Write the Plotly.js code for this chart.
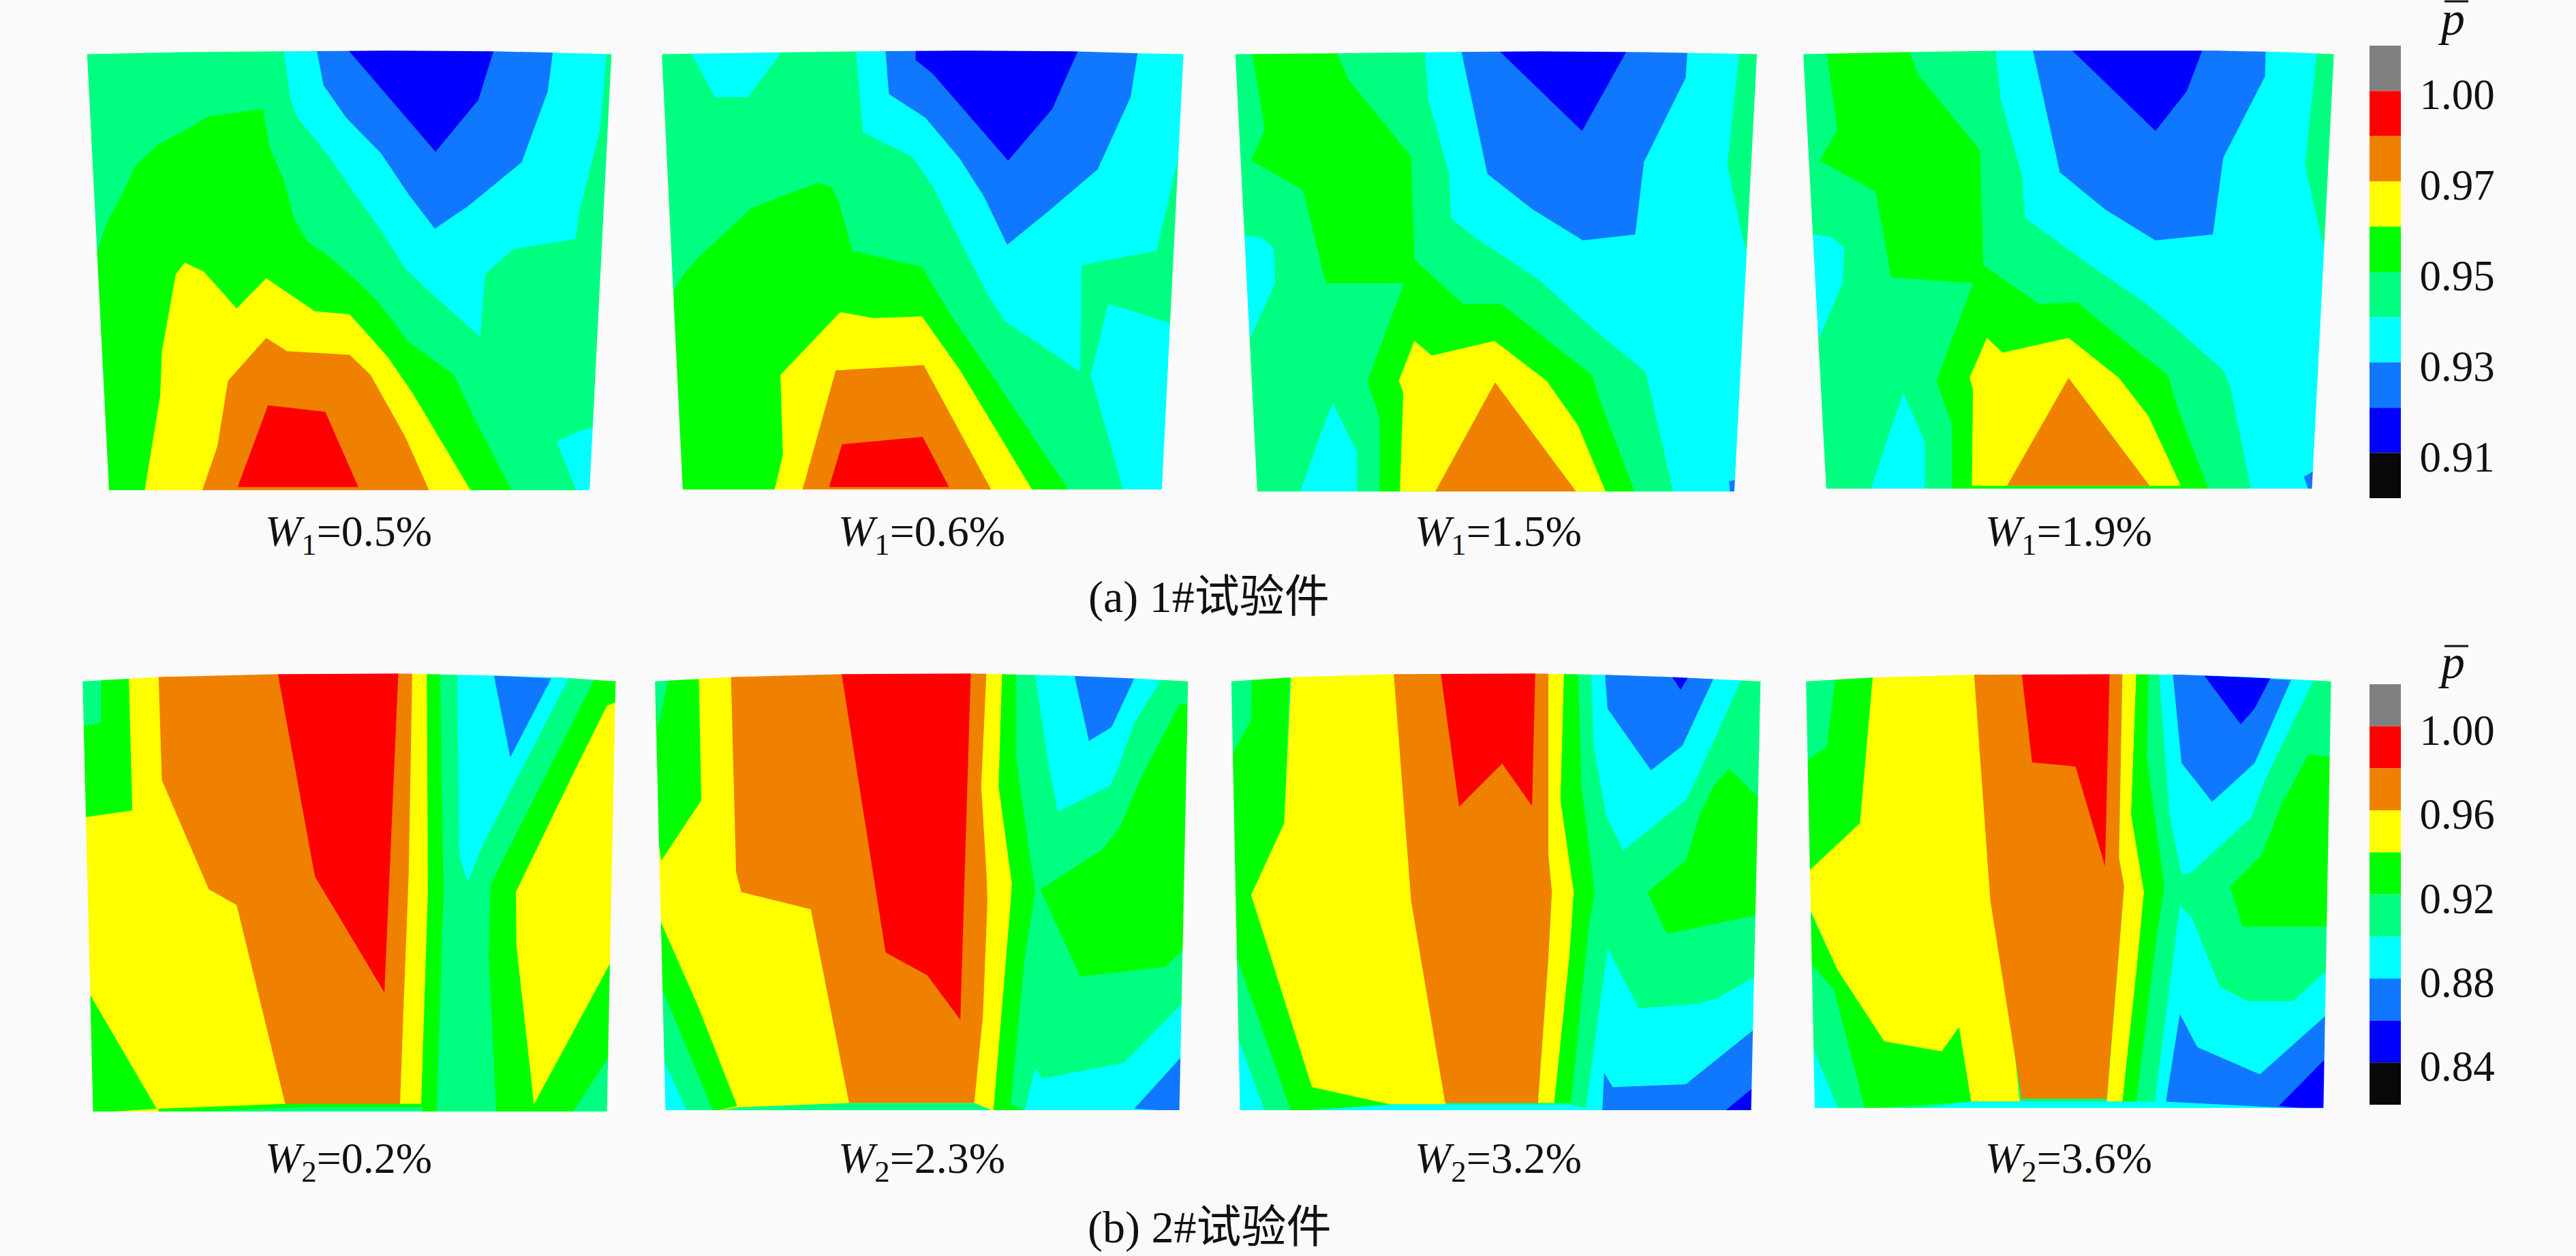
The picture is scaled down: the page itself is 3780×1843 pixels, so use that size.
<!DOCTYPE html>
<html><head><meta charset="utf-8">
<script src="https://cdn.plot.ly/plotly-3.0.1.min.js"></script>
<style>html,body{margin:0;padding:0;background:#fafafa}</style>
</head><body><div id="chart" style="width:3780px;height:1843px"></div>
<script>
// ---------- DATA: iso-band regions, panel plane units ----------
const levels1 = ['1.00','0.97','0.95','0.93','0.91'];
const levels2 = ['1.00','0.96','0.92','0.88','0.84'];
const bandKeys = ['gray','R','O','Y','G','S','C','B','N','K'];
const labels1 = ['0.5%','0.6%','1.5%','1.9%'];
const labels2 = ['0.2%','2.3%','3.2%','3.6%'];

const outline1 = [[35,45],[300,38],[600,35],[900,33],[1200,35],[1380,40],[1543,45],[1480,1520],[98,1520]];
const bands1 = [
 ['S',[[0,0],[1568,0],[1568,1568],[0,1568]]],
 ['C',[[600,30],[1530,30],[1510,300],[1450,580],[1440,670],[1260,705],[1180,790],[1165,1000],[1030,860],[950,770],[880,640],[800,510],[730,390],[640,260],[620,200]]],
 ['C',[[1385,1355],[1450,1320],[1500,1305],[1500,1530],[1445,1530]]],
 ['B',[[695,30],[1375,30],[1360,170],[1285,410],[1130,560],[1035,635],[960,520],[880,380],[780,260],[715,150]]],
 ['N',[[785,30],[1205,30],[1160,200],[1037,375]]],
 ['G',[[40,710],[65,710],[90,620],[130,530],[175,420],[240,350],[320,300],[385,255],[540,230],[560,360],[600,470],[630,600],[670,680],[720,720],[800,800],[870,880],[960,1020],[1090,1130],[1150,1280],[1260,1530],[40,1530]]],
 ['Y',[[200,1525],[245,1200],[250,1050],[290,790],[315,750],[370,780],[465,905],[550,803],[690,915],[790,925],[900,1070],[970,1190],[1140,1525]]],
 ['O',[[365,1525],[410,1370],[440,1150],[550,1005],[610,1050],[790,1062],[850,1130],[950,1340],[1020,1525]]],
 ['R',[[468,1510],[555,1233],[720,1255],[815,1510]]]
];

const outline2 = [[22,45],[300,40],[600,35],[900,33],[1200,35],[1400,42],[1522,45],[1460,1518],[82,1518]];
const bands2 = [
 ['S',[[0,0],[1568,0],[1568,1568],[0,1568]]],
 ['C',[[105,40],[365,40],[270,190],[175,190]]],
 ['C',[[580,30],[1530,30],[1510,380],[1445,710],[1290,745],[1230,760],[1225,1120],[1100,1020],[1010,950],[960,860],[890,700],[800,490],[740,390],[600,310]]],
 ['C',[[1305,890],[1350,905],[1485,955],[1470,1525],[1350,1525],[1255,1130]]],
 ['B',[[665,30],[1392,30],[1370,190],[1275,435],[1130,580],[1015,690],[950,530],[880,400],[780,260],[675,180]]],
 ['N',[[752,30],[1220,30],[1145,230],[1018,405],[800,110],[752,65]]],
 ['G',[[50,860],[85,790],[120,740],[280,565],[470,480],[510,495],[530,540],[570,710],[770,765],[860,940],[960,1110],[1195,1525],[50,1525]]],
 ['Y',[[345,1525],[370,1400],[363,1130],[535,918],[630,938],[770,932],[880,1115],[1090,1525]]],
 ['O',[[425,1525],[522,1115],[775,1097],[972,1525]]],
 ['R',[[503,1510],[540,1365],[772,1340],[848,1510]]]
];

const outline3 = [[25,45],[300,42],[600,38],[900,35],[1200,38],[1400,42],[1525,45],[1460,1525],[88,1525]];
const bands3 = [
 ['S',[[0,0],[1568,0],[1568,1568],[0,1568]]],
 ['G',[[72,35],[315,35],[350,130],[530,390],[540,740],[680,890],[790,890],[920,1010],[1050,1130],[1075,1220],[1175,1530],[440,1530],[440,1280],[405,1150],[510,820],[285,820],[220,505],[70,405],[110,300]]],
 ['C',[[30,655],[100,665],[135,700],[140,820],[70,1000],[30,1000]]],
 ['C',[[305,1225],[375,1390],[375,1530],[210,1530],[270,1330]]],
 ['C',[[570,35],[1475,35],[1440,420],[1490,700],[1540,710],[1500,1530],[1285,1530],[1205,1120],[1110,1030],[1040,960],[900,810],[720,670],[645,600],[640,450],[580,200]]],
 ['B',[[675,35],[1325,35],[1320,125],[1200,410],[1175,655],[1025,675],[880,570],[750,450]]],
 ['N',[[785,35],[1150,35],[1022,305]]],
 ['Y',[[498,1525],[508,1190],[495,1150],[540,1015],[590,1065],[770,1015],[920,1150],[1010,1300],[1090,1525]]],
 ['O',[[600,1525],[772,1155],[1005,1525]]],
 ['B',[[1445,1490],[1465,1485],[1465,1530],[1448,1530]]]
];

const outline4 = [[12,45],[300,38],[600,33],[900,33],[1200,33],[1400,38],[1538,45],[1475,1515],[78,1515]];
const bands4 = [
 ['S',[[0,0],[1568,0],[1568,1568],[0,1568]]],
 ['G',[[78,30],[315,30],[340,110],[520,370],[530,760],[690,890],[800,885],[920,1000],[1060,1130],[1085,1230],[1178,1520],[440,1520],[440,1300],[395,1150],[500,820],[265,800],[220,510],[60,405],[110,300]]],
 ['C',[[20,650],[95,665],[130,700],[125,820],[60,1000],[20,1000]]],
 ['C',[[300,1190],[362,1360],[362,1520],[205,1520],[270,1290]]],
 ['C',[[565,30],[1490,30],[1455,420],[1505,680],[1545,700],[1500,1520],[1300,1520],[1240,1170],[1220,1115],[1100,990],[1000,890],[850,770],[650,600],[640,450],[580,200]]],
 ['B',[[672,30],[1342,30],[1340,120],[1220,395],[1190,655],[1025,675],[880,570],[750,445]]],
 ['N',[[783,30],[1160,30],[1115,170],[1025,305]]],
 ['Y',[[497,1505],[500,1180],[490,1140],[540,1005],[585,1055],[775,1005],[920,1140],[1005,1270],[1098,1505]]],
 ['O',[[598,1505],[775,1140],[1008,1505]]],
 ['B',[[1452,1475],[1480,1455],[1480,1520],[1465,1520]]]
];

const outline5 = [[22,35],[240,20],[580,10],[930,8],[1200,15],[1400,22],[1555,35],[1530,1535],[52,1535]];
const bands5 = [
 ['Y',[[0,0],[1568,0],[1568,1568],[0,1568]]],
 ['G',[[20,25],[155,25],[165,485],[20,510]]],
 ['S',[[20,30],[75,30],[75,180],[25,190]]],
 ['G',[[40,1120],[235,1525],[40,1540]]],
 ['O',[[240,5],[970,5],[960,700],[945,1170],[935,1510],[605,1510],[465,815],[385,760],[250,380]]],
 ['R',[[583,5],[930,5],[890,1120],[690,715]]],
 ['G',[[1012,5],[1560,5],[1560,1540],[995,1540],[1015,770]]],
 ['Y',[[1530,120],[1560,105],[1545,1005],[1320,1510],[1270,960],[1268,770],[1440,340]]],
 ['S',[[1050,5],[1495,25],[1195,745],[1190,1000],[1212,1540],[1040,1540],[1060,770],[1055,400]]],
 ['S',[[1540,1335],[1430,1540],[1540,1540]]],
 ['C',[[1100,5],[1420,25],[1175,600],[1130,735],[1105,640]]],
 ['B',[[1205,15],[1370,25],[1252,300]]],
 ['G',[[240,1525],[605,1508],[995,1508],[995,1540],[240,1540]]],
 ['S',[[370,1535],[650,1520],[1000,1520],[1000,1540],[370,1540]]]
];

const outline6 = [[22,35],[240,20],[560,10],[930,8],[1200,15],[1400,25],[1555,35],[1530,1530],[52,1530]];
const bands6 = [
 ['Y',[[0,0],[1568,0],[1568,1568],[0,1568]]],
 ['G',[[20,30],[148,28],[155,450],[40,660],[20,500]]],
 ['S',[[20,30],[60,30],[30,200]]],
 ['G',[[30,850],[150,1180],[258,1515],[190,1535],[30,1535]]],
 ['S',[[40,1100],[190,1535],[40,1535]]],
 ['C',[[40,1340],[115,1535],[40,1535]]],
 ['O',[[240,5],[975,5],[960,400],[975,700],[978,800],[965,1200],[940,1505],[580,1505],[470,830],[270,770],[255,700]]],
 ['R',[[558,5],[930,5],[900,1215],[805,1060],[685,980]]],
 ['G',[[1020,5],[1560,5],[1560,1535],[995,1535],[1045,800],[1048,740],[1010,400]]],
 ['S',[[1060,5],[1560,5],[1560,1535],[1090,1535],[1045,1510],[1085,1000],[1115,770],[1060,300]]],
 ['G',[[1130,760],[1310,620],[1360,540],[1420,370],[1530,115],[1560,115],[1560,950],[1490,1030],[1245,1065]]],
 ['C',[[1115,10],[1480,25],[1400,180],[1350,350],[1330,400],[1180,490],[1150,300]]],
 ['B',[[1228,15],[1400,25],[1335,195],[1270,243]]],
 ['C',[[1115,1385],[1135,1420],[1370,1365],[1545,1150],[1545,1535],[1085,1535]]],
 ['B',[[1535,1345],[1400,1525],[1540,1535]]],
 ['S',[[190,1535],[260,1520],[580,1505],[940,1505],[1000,1535]]]
];

const outline7 = [[33,35],[220,20],[500,10],[900,8],[1100,12],[1300,20],[1555,35],[1528,1530],[58,1530]];
const bands7 = [
 ['S',[[0,0],[1568,0],[1568,1568],[0,1568]]],
 ['G',[[92,20],[200,20],[185,530],[90,780],[265,1450],[490,1510],[205,1535],[50,1000],[30,300],[90,170]]],
 ['Y',[[205,15],[500,5],[650,1510],[490,1510],[265,1450],[90,780],[185,530]]],
 ['O',[[500,5],[945,5],[945,640],[955,770],[945,1000],[915,1505],[648,1505],[550,800]]],
 ['R',[[635,5],[907,5],[898,470],[812,322],[688,472]]],
 ['Y',[[945,5],[990,5],[980,450],[1018,770],[1005,1000],[962,1505],[915,1505],[945,1000],[955,770],[945,640]]],
 ['G',[[990,5],[1030,5],[1040,400],[1078,770],[1060,900],[1010,1505],[962,1505],[1005,1000],[1018,770],[980,450]]],
 ['C',[[50,1270],[130,1535],[50,1535]]],
 ['C',[[1068,10],[1300,15],[1500,30],[1380,350],[1340,450],[1160,625],[1110,500],[1075,260]]],
 ['B',[[1108,10],[1420,25],[1330,260],[1240,345],[1115,130]]],
 ['N',[[1298,15],[1350,15],[1325,65]]],
 ['G',[[1230,770],[1340,660],[1380,500],[1420,400],[1465,340],[1550,440],[1545,850],[1285,915]]],
 ['C',[[1115,965],[1205,1175],[1370,1160],[1430,1140],[1545,1060],[1545,1535],[1050,1535],[1055,1500],[1100,1100]]],
 ['B',[[1105,1400],[1130,1450],[1340,1440],[1535,1250],[1540,1535],[1100,1535]]],
 ['N',[[1530,1455],[1455,1530],[1535,1535]]],
 ['C',[[205,1535],[500,1510],[1005,1510],[1100,1535]]]
];

const outline8 = [[20,35],[210,22],[500,12],[900,10],[1100,12],[1300,20],[1530,35],[1508,1522],[45,1522]];
const bands8 = [
 ['S',[[0,0],[1568,0],[1568,1568],[0,1568]]],
 ['G',[[105,20],[212,20],[175,530],[30,705],[15,320],[80,260]]],
 ['G',[[20,810],[110,1040],[245,1290],[410,1325],[460,1240],[495,1500],[190,1525],[100,1110],[20,1000]]],
 ['Y',[[212,15],[503,5],[635,1500],[495,1500],[460,1240],[410,1325],[245,1290],[110,1040],[20,800],[20,705],[175,530]]],
 ['C',[[35,1300],[115,1530],[35,1530]]],
 ['O',[[503,5],[930,5],[920,650],[935,750],[915,1050],[885,1490],[640,1490],[550,800]]],
 ['R',[[640,5],[893,5],[880,680],[795,332],[670,318]]],
 ['Y',[[930,5],[970,5],[955,500],[992,770],[970,1050],[930,1500],[885,1500],[915,1050],[935,750],[920,650]]],
 ['G',[[970,5],[1005,5],[1000,300],[1050,750],[1020,1000],[970,1500],[930,1500],[970,1050],[992,770],[955,500]]],
 ['C',[[1035,5],[1480,30],[1340,380],[1300,510],[1130,700],[1100,710],[1065,500]]],
 ['B',[[1075,10],[1415,30],[1310,320],[1188,455],[1100,320]]],
 ['N',[[1165,15],[1355,25],[1310,130],[1270,185]]],
 ['G',[[1240,750],[1330,640],[1385,470],[1465,290],[1540,300],[1530,890],[1275,890]]],
 ['C',[[1095,815],[1130,860],[1210,1100],[1290,1150],[1420,1150],[1520,1040],[1520,1530],[1020,1530],[1065,1100]]],
 ['B',[[1095,1195],[1145,1310],[1325,1405],[1520,1195],[1520,1530],[1055,1500]]],
 ['N',[[1510,1355],[1380,1515],[1515,1530]]],
 ['C',[[495,1500],[1050,1500],[1200,1530],[300,1530]]]
];

// ---------- STYLE / LAYOUT ----------
const W = 3780, H = 1843, BG = '#fafafa';
const COLORS = {gray:'#808080',R:'#ff0000',O:'#f08000',Y:'#ffff00',G:'#00ff00',S:'#00ff80',C:'#00ffff',B:'#0f78ff',N:'#0000ff',K:'#080808'};
const SERIF = '"Liberation Serif","Noto Sans CJK SC",serif';
const TEXT = '#111111';
const panels = [
 {o:outline1,b:bands1,r:[110,60,800,680]},
 {o:outline2,b:bands2,r:[960,60,800,680]},
 {o:outline3,b:bands3,r:[1800,60,800,680]},
 {o:outline4,b:bands4,r:[2640,60,800,680]},
 {o:outline5,b:bands5,r:[110,985,800,660]},
 {o:outline6,b:bands6,r:[950,985,800,660]},
 {o:outline7,b:bands7,r:[1790,985,800,660]},
 {o:outline8,b:bands8,r:[2640,985,800,660]}
];
const SPAN = 1568;
const traces = [];
const layout = {width:W,height:H,margin:{l:0,r:0,t:0,b:0},paper_bgcolor:BG,plot_bgcolor:'rgba(0,0,0,0)',showlegend:false,annotations:[],shapes:[]};

function domX(x,w){return [x/W,(x+w)/W];}
function domY(y,h){return [1-(y+h)/H,1-y/H];}
function poly(pts,color,xa,ya){
  const c = pts.concat([pts[0]]);
  traces.push({type:'scatter',mode:'lines',x:c.map(p=>p[0]),y:c.map(p=>p[1]),fill:'toself',fillcolor:color,
    line:{width:0,simplify:false,color:color},hoverinfo:'skip',xaxis:xa,yaxis:ya});
}
panels.forEach((p,i)=>{
  const n=i+1, xa='x'+n, ya='y'+n;
  layout['xaxis'+n]={domain:domX(p.r[0],p.r[2]),range:[0,SPAN],visible:false,fixedrange:true,anchor:ya};
  layout['yaxis'+n]={domain:domY(p.r[1],p.r[3]),range:[SPAN,0],visible:false,fixedrange:true,anchor:xa};
  p.b.forEach(b=>poly(b[1],COLORS[b[0]],xa,ya));
  // surround: everything outside the passage outline shows the page colour
  const rev=p.o.slice().reverse();
  const frame=[[0,0],[SPAN,0],[SPAN,SPAN],[0,SPAN],[0,0]].concat(rev.concat([rev[0]])).concat([[0,0]]);
  poly(frame,BG,xa,ya);
});

// colour keys
function key(n,levels,x,y,w,h){
  const xa='x'+n, ya='y'+n;
  layout['xaxis'+n]={domain:domX(x,w),range:[-0.5,0.5],visible:false,fixedrange:true,anchor:ya};
  layout['yaxis'+n]={domain:domY(y,h),range:[bandKeys.length,0],side:'right',anchor:xa,fixedrange:true,
    showgrid:false,zeroline:false,showline:false,ticks:'outside',ticklen:14,tickcolor:'rgba(0,0,0,0)',
    ticklabelshift:-5,
    tickvals:levels.map((_,k)=>2*k+1),ticktext:levels,tickfont:{family:SERIF,size:63,color:TEXT}};
  traces.push({type:'bar',x:bandKeys.map(()=>0),y:bandKeys.map(()=>1),base:bandKeys.map((_,k)=>k),width:1,
    marker:{color:bandKeys.map(k=>COLORS[k]),line:{width:0}},hoverinfo:'skip',xaxis:xa,yaxis:ya});
}
key(9,levels1,3477,67,46,664);
key(10,levels2,3477,1004,46,617);

function note(text,x,y,size){
  layout.annotations.push({xref:'paper',yref:'paper',x:x/W,y:1-y/H,text:text,showarrow:false,
    xanchor:'center',yanchor:'middle',font:{family:SERIF,size:size,color:TEXT}});
}
function bar(x0,x1,y){
  layout.shapes.push({type:'line',xref:'paper',yref:'paper',x0:x0/W,x1:x1/W,y0:1-y/H,y1:1-y/H,line:{color:TEXT,width:3}});
}
const colX=[511,1352,2198,3035];
labels1.forEach((t,i)=>note('<i>W</i><sub>1</sub>='+t,colX[i],784,64));
labels2.forEach((t,i)=>note('<i>W</i><sub>2</sub>='+t,colX[i],1704,64));
note('(a) 1#试验件',1774,876,66);
note('(b) 2#试验件',1774,1801,66);
note('<i>p</i>',3597,28,70);
bar(3587,3622,2);
note('<i>p</i>',3597,971,70);
bar(3587,3622,948);

Plotly.newPlot('chart',traces,layout,{displayModeBar:false,staticPlot:true});
</script></body></html>
